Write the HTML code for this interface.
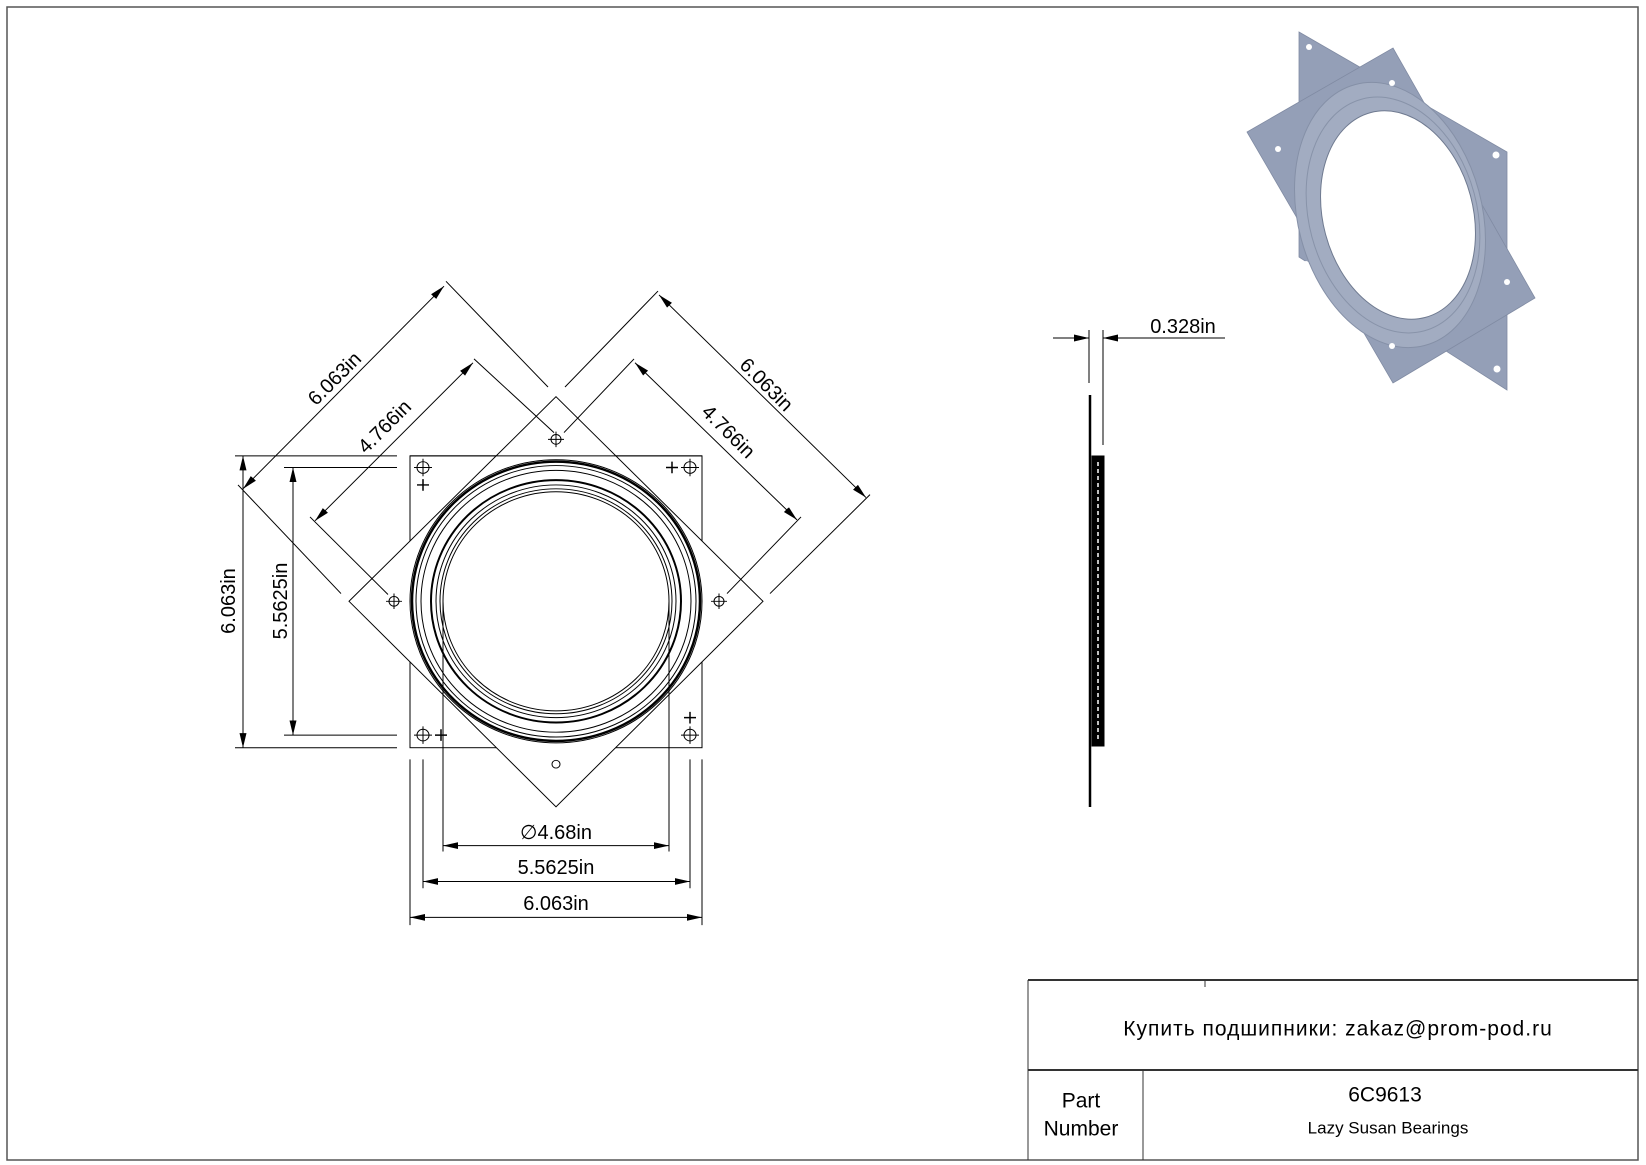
<!DOCTYPE html>
<html><head><meta charset="utf-8"><style>
html,body{margin:0;padding:0;background:#fff}
svg{display:block}
text{font-family:"Liberation Sans","DejaVu Sans",sans-serif;fill:#000}
</style></head><body>
<svg width="1646" height="1165" viewBox="0 0 1646 1165" xmlns="http://www.w3.org/2000/svg">
<defs>
<marker id="a" markerWidth="16" markerHeight="10" refX="15" refY="5" orient="auto-start-reverse" markerUnits="userSpaceOnUse">
<path d="M0,1.5 L15,5 L0,8.5 Z" fill="#000"/></marker>
</defs>
<rect x="7" y="7" width="1631" height="1153" fill="none" stroke="#555" stroke-width="1.5"/>
<g stroke="#333" fill="none">
<line x1="1028" y1="980" x2="1638" y2="980" stroke-width="2"/>
<line x1="1028" y1="1070" x2="1638" y2="1070" stroke-width="2"/>
<line x1="1028" y1="980" x2="1028" y2="1160" stroke-width="1"/>
<line x1="1143" y1="1070" x2="1143" y2="1160" stroke-width="1"/>
<line x1="1205" y1="980" x2="1205" y2="987" stroke-width="1"/>
</g>
<text x="1338" y="1029" font-size="21" letter-spacing="1" text-anchor="middle" dominant-baseline="central" font-family="'DejaVu Sans',sans-serif">Купить подшипники: zakaz@prom-pod.ru</text>
<text x="1385" y="1095" font-size="21" text-anchor="middle" dominant-baseline="central">6C9613</text>
<text x="1388" y="1128" font-size="17" text-anchor="middle" dominant-baseline="central">Lazy Susan Bearings</text>
<text x="1081" y="1101" font-size="21" text-anchor="middle" dominant-baseline="central">Part</text>
<text x="1081" y="1129" font-size="21" text-anchor="middle" dominant-baseline="central">Number</text>

<g transform="translate(0,260) scale(1,0.9696) translate(0,-260)">
<g stroke="#000" fill="none" stroke-width="1">
<rect x="410" y="462" width="292" height="301"/>
<polygon points="556,401 763,612 556,824 349,612" fill="#fff"/>
<line x1="410" y1="462" x2="702" y2="462"/>
<circle cx="556" cy="612" r="146"/>
<circle cx="556" cy="612" r="144" stroke-width="2.5"/>
<circle cx="556" cy="612" r="140"/>
<circle cx="556" cy="612" r="135"/>
<circle cx="556" cy="612" r="125" stroke-width="2"/>
<circle cx="556" cy="612" r="120"/>
<circle cx="556" cy="612" r="116"/>
<circle cx="556" cy="612" r="113"/>
<g>
<circle cx="423" cy="474" r="6"/><path d="M414,474h18M423,465v18"/>
<circle cx="690" cy="474" r="6"/><path d="M681,474h18M690,465v18"/>
<circle cx="423" cy="750" r="6"/><path d="M414,750h18M423,741v18"/>
<circle cx="690" cy="750" r="6"/><path d="M681,750h18M690,741v18"/>
<circle cx="556" cy="445" r="5"/><path d="M548,445h16M556,437v16"/>
<circle cx="394" cy="612" r="5"/><path d="M386,612h16M394,604v16"/>
<circle cx="719" cy="612" r="5"/><path d="M711,612h16M719,604v16"/>
<circle cx="556" cy="780" r="4"/>
<path d="M417,492h12M423,486v12M666,474h12M672,468v12M435,750h12M441,744v12M684,732h12M690,726v12" stroke-width="1.5"/>
</g>
<line x1="235" y1="462" x2="397" y2="462"/>
<line x1="235" y1="763" x2="397" y2="763"/>
<line x1="284" y1="474" x2="397" y2="474"/>
<line x1="284" y1="750" x2="397" y2="750"/>
<line x1="243" y1="462" x2="243" y2="763" marker-start="url(#a)" marker-end="url(#a)"/>
<line x1="293" y1="474" x2="293" y2="750" marker-start="url(#a)" marker-end="url(#a)"/>
<line x1="443" y1="612" x2="443" y2="870"/>
<line x1="669" y1="612" x2="669" y2="870"/>
<line x1="423" y1="775" x2="423" y2="908"/>
<line x1="690" y1="775" x2="690" y2="908"/>
<line x1="410" y1="775" x2="410" y2="946"/>
<line x1="702" y1="775" x2="702" y2="946"/>
<line x1="443" y1="864" x2="669" y2="864" marker-start="url(#a)" marker-end="url(#a)"/>
<line x1="423" y1="901" x2="690" y2="901" marker-start="url(#a)" marker-end="url(#a)"/>
<line x1="410" y1="938" x2="702" y2="938" marker-start="url(#a)" marker-end="url(#a)"/>
<line x1="446" y1="282" x2="548" y2="391"/>
<line x1="238" y1="492" x2="341" y2="604"/>
<line x1="243" y1="496" x2="444" y2="287" marker-start="url(#a)" marker-end="url(#a)"/>
<line x1="474" y1="362" x2="554" y2="438"/>
<line x1="310" y1="525" x2="388" y2="605"/>
<line x1="315" y1="529" x2="473" y2="366" marker-start="url(#a)" marker-end="url(#a)"/>
<line x1="658" y1="292" x2="565" y2="391"/>
<line x1="870" y1="502" x2="770" y2="604"/>
<line x1="659" y1="296" x2="866" y2="505" marker-start="url(#a)" marker-end="url(#a)"/>
<line x1="634" y1="362" x2="564" y2="438"/>
<line x1="801" y1="525" x2="727" y2="604"/>
<line x1="635" y1="366" x2="797" y2="528" marker-start="url(#a)" marker-end="url(#a)"/>
</g>
</g>
<g font-size="20" text-anchor="middle" dominant-baseline="central">
<text x="556" y="833">∅4.68in</text>
<text x="556" y="868">5.5625in</text>
<text x="556" y="904">6.063in</text>
<text transform="translate(229,601) rotate(-90)">6.063in</text>
<text transform="translate(281,601) rotate(-90)">5.5625in</text>
<text transform="translate(335,379) rotate(-45)">6.063in</text>
<text transform="translate(385,427) rotate(-45)">4.766in</text>
<text transform="translate(766,385) rotate(45)">6.063in</text>
<text transform="translate(728,432) rotate(45)">4.766in</text>
</g>

<g stroke="#000" fill="none">
<line x1="1089" y1="330" x2="1089" y2="383" stroke-width="1"/>
<line x1="1103" y1="330" x2="1103" y2="445" stroke-width="1"/>
<line x1="1053" y1="338" x2="1089" y2="338" marker-end="url(#a)" stroke-width="1"/>
<line x1="1225" y1="338" x2="1103" y2="338" marker-end="url(#a)" stroke-width="1"/>
<line x1="1090" y1="395" x2="1090" y2="807" stroke-width="2.5"/>
<rect x="1092" y="456" width="12" height="290" fill="#000" stroke="#000" stroke-width="1"/>
<line x1="1098" y1="462" x2="1098" y2="740" stroke="#fff" stroke-width="1.5" stroke-dasharray="4,3"/>
</g>
<text x="1183" y="327" font-size="20" text-anchor="middle" dominant-baseline="central">0.328in</text>

<g>
<polygon points="1299,32 1507,152 1507,390 1299,257" fill="#949fb7" stroke="#808ba3" stroke-width="0.8"/>
<polygon points="1393,48 1535,298 1393,383 1247,132" fill="#949fb7" stroke="#808ba3" stroke-width="0.8"/>
<ellipse cx="1390" cy="215" rx="92" ry="135" transform="rotate(-15 1390 215)" fill="#a2acc1" stroke="#8590a7"/>
<ellipse cx="1393" cy="215" rx="84" ry="120" transform="rotate(-15 1393 215)" fill="none" stroke="#8893a9"/>
<ellipse cx="1398" cy="215" rx="75" ry="106" transform="rotate(-15 1398 215)" fill="#fff" stroke="#6f7a90"/>
<g fill="#fff">
<circle cx="1309" cy="47" r="3"/><circle cx="1392" cy="83" r="3"/><circle cx="1278" cy="149" r="3"/>
<circle cx="1496" cy="155" r="3.5"/><circle cx="1306" cy="264" r="3"/><circle cx="1507" cy="282" r="3"/>
<circle cx="1392" cy="346" r="3"/><circle cx="1497" cy="369" r="3.5"/>
</g>
</g>
</svg>
</body></html>
